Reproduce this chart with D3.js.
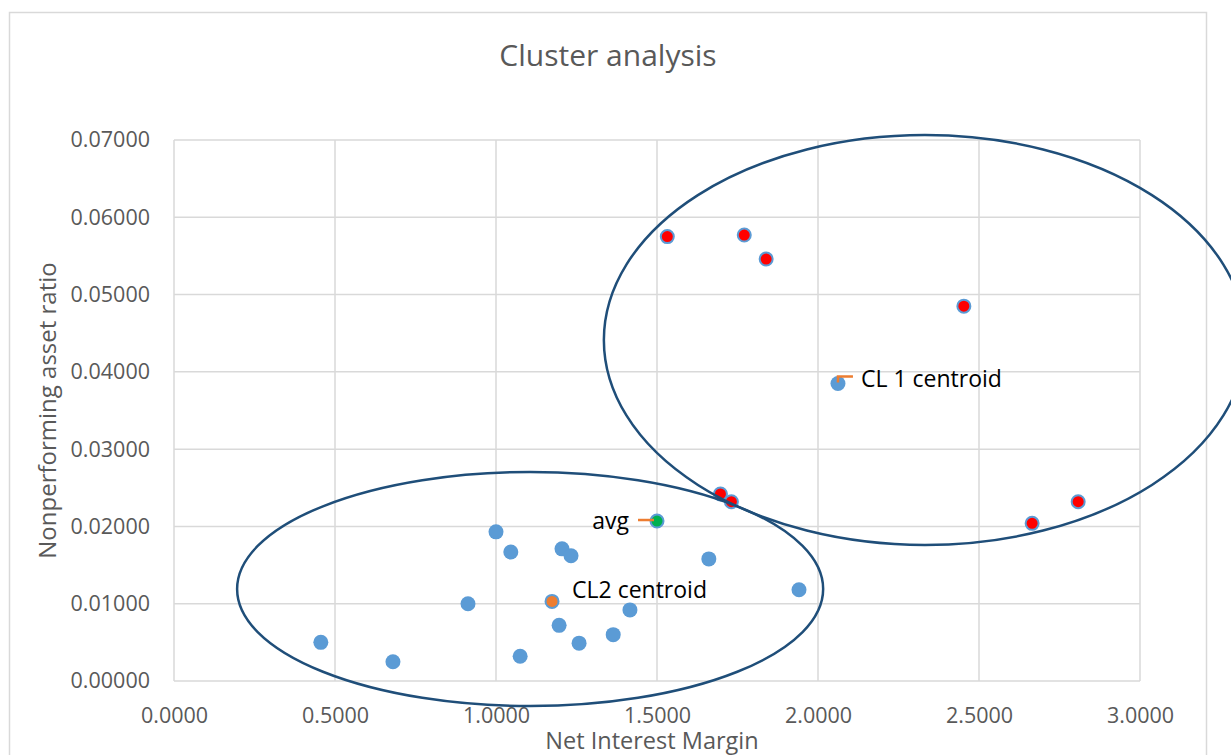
<!DOCTYPE html>
<html>
<head>
<meta charset="utf-8">
<script src="https://cdn.jsdelivr.net/npm/d3@7"></script>
<style>
  body { margin: 0; background: #fff; }
  text { font-family: "Open Sans", "Noto Sans", sans-serif; }
</style>
</head>
<body>
<svg id="chart" width="1231" height="755"></svg>
<script>
// points: [net interest margin, nonperforming asset ratio]
const cluster2 = [
  [0.456, 0.0050], [0.680, 0.0025], [0.913, 0.0100], [1.000, 0.0193],
  [1.046, 0.0167], [1.075, 0.0032], [1.196, 0.0072], [1.205, 0.0171],
  [1.233, 0.0162], [1.258, 0.0049], [1.364, 0.0060], [1.416, 0.0092],
  [1.661, 0.0158], [1.941, 0.0118]
];
const cluster1 = [
  [1.532, 0.0575], [1.771, 0.0577], [1.839, 0.0546], [2.453, 0.0485],
  [1.697, 0.0242], [1.731, 0.0232], [2.665, 0.0204], [2.808, 0.0232]
];
const centroids = [
  { name: "CL 1 centroid", x: 2.062, y: 0.0385, kind: "cl1" },
  { name: "CL2 centroid", x: 1.174, y: 0.0103, kind: "cl2" },
  { name: "avg", x: 1.500, y: 0.0207, kind: "avg" }
];
// hand drawn rings round the clusters, in data units
const rings = [
  { cx: 2.332, cy: 0.04412, rx: 0.997, ry: 0.02652 },
  { cx: 1.106, cy: 0.01190, rx: 0.910, ry: 0.01514 }
];
const xTicks = [0, 0.5, 1, 1.5, 2, 2.5, 3];
const yTicks = [0, 0.01, 0.02, 0.03, 0.04, 0.05, 0.06, 0.07];

const svg = d3.select("#chart");
const plot = { left: 174, right: 1140, top: 140, bottom: 681 };

let x = d3.scaleLinear().domain([0, 3]).range([plot.left, plot.right]);
let y = d3.scaleLinear().domain([0, 0.07]).range([plot.bottom, plot.top]);

const grey = "#595959", grid = "#d9d9d9", blue = "#5b9bd5", orange = "#ed7d31";

// chart frame (bottom edge falls outside the picture)
svg.append("rect")
  .attr("x", 9.5).attr("y", 12.5)
  .attr("width", 1197).attr("height", 760)
  .attr("fill", "none").attr("stroke", grid).attr("stroke-width", 1.5);

svg.append("text")
  .attr("x", 608).attr("y", 66)
  .attr("text-anchor", "middle")
  .attr("font-size", 30).attr("fill", grey)
  .text("Cluster analysis");

// gridlines
let gridG = svg.append("g");
gridG.selectAll("line.v").data(xTicks).join("line")
  .attr("class", "v")
  .attr("x1", d => x(d)).attr("x2", d => x(d))
  .attr("y1", plot.top).attr("y2", plot.bottom)
  .attr("stroke", grid).attr("stroke-width", 1.5);
gridG.selectAll("line.h").data(yTicks).join("line")
  .attr("class", "h")
  .attr("x1", plot.left).attr("x2", plot.right)
  .attr("y1", d => y(d)).attr("y2", d => y(d))
  .attr("stroke", grid).attr("stroke-width", 1.5);

// axes, only for the labels
let xAxis = svg.append("g")
  .attr("transform", `translate(0,${plot.bottom})`)
  .call(d3.axisBottom(x).tickValues(xTicks).tickFormat(d3.format(".4f")).tickSize(0).tickPadding(27));
let yAxis = svg.append("g")
  .attr("transform", `translate(${plot.left},0)`)
  .call(d3.axisLeft(y).tickValues(yTicks).tickFormat(d3.format(".5f")).tickSize(0).tickPadding(24));
[xAxis, yAxis].forEach(a => {
  a.select(".domain").remove();
  a.selectAll("text")
    .attr("font-family", '"Open Sans", sans-serif')
    .attr("font-size", 21.5).attr("fill", grey);
});

svg.append("text")
  .attr("x", 652).attr("y", 749)
  .attr("text-anchor", "middle")
  .attr("font-size", 23.5).attr("fill", grey)
  .text("Net Interest Margin");
svg.append("text")
  .attr("transform", `translate(56,${(plot.top + plot.bottom) / 2}) rotate(-90)`)
  .attr("text-anchor", "middle")
  .attr("font-size", 24).attr("fill", grey)
  .text("Nonperforming asset ratio");

// points
svg.append("g").selectAll("circle").data(cluster2).join("circle")
  .attr("cx", d => x(d[0])).attr("cy", d => y(d[1]))
  .attr("r", 7.5).attr("fill", blue);

svg.append("g").selectAll("circle").data(cluster1).join("circle")
  .attr("cx", d => x(d[0])).attr("cy", d => y(d[1]))
  .attr("r", 6.5).attr("fill", "#ff0000")
  .attr("stroke", blue).attr("stroke-width", 2);

const fillFor = { cl1: blue, cl2: orange, avg: "#00b050" };
svg.append("g").selectAll("circle").data(centroids).join("circle")
  .attr("cx", d => x(d.x)).attr("cy", d => y(d.y))
  .attr("r", d => d.kind === "cl1" ? 7.5 : 6.5)
  .attr("fill", d => fillFor[d.kind])
  .attr("stroke", blue).attr("stroke-width", d => d.kind === "cl1" ? 0 : 2);

// leader lines + labels
const leaders = {
  cl1: p => `M${p[0]},${p[1] - 1}V${p[1] - 7}H${p[0] + 15}`,
  avg: p => `M${p[0] - 3},${p[1] - 1}H${p[0] - 19}`
};
centroids.forEach(d => {
  const p = [x(d.x), y(d.y)];
  if (leaders[d.kind]) {
    svg.append("path").attr("d", leaders[d.kind](p))
      .attr("fill", "none").attr("stroke", orange).attr("stroke-width", 2.5);
  }
  let t = svg.append("text").attr("font-size", 23).attr("fill", "#000").text(d.name);
  if (d.kind === "cl1") t.attr("x", p[0] + 23).attr("y", p[1] + 4);
  else if (d.kind === "cl2") t.attr("x", p[0] + 20).attr("y", p[1] - 3);
  else t.attr("x", p[0] - 28).attr("y", p[1] + 8).attr("text-anchor", "end");
});

// cluster rings on top of the points
svg.append("g").selectAll("ellipse").data(rings).join("ellipse")
  .attr("cx", d => x(d.cx)).attr("cy", d => y(d.cy))
  .attr("rx", d => x(d.cx + d.rx) - x(d.cx))
  .attr("ry", d => y(d.cy) - y(d.cy + d.ry))
  .attr("fill", "none").attr("stroke", "#1f4e79").attr("stroke-width", 2.5);
</script>
</body>
</html>
